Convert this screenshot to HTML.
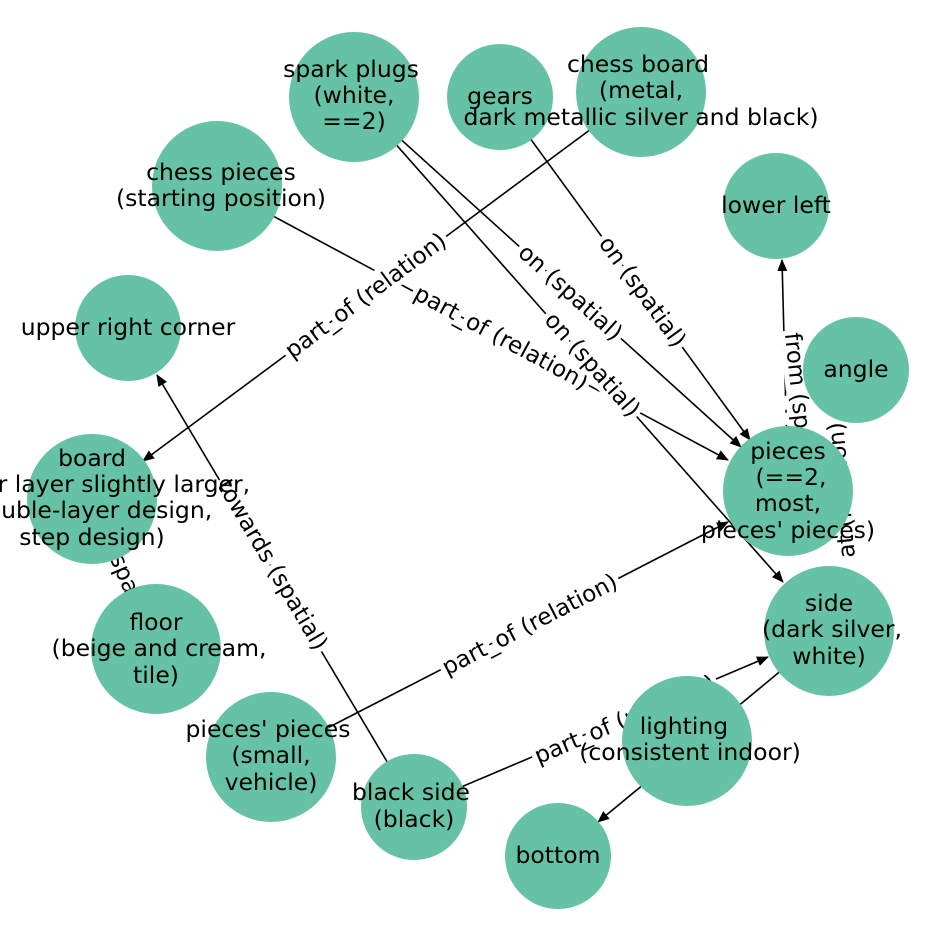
<!DOCTYPE html>
<html><head><meta charset="utf-8"><style>html,body{margin:0;padding:0;background:#fff}svg{display:block}</style></head>
<body>
<svg width="948" height="948" viewBox="0 0 948 948" xmlns="http://www.w3.org/2000/svg" font-family="'DejaVu Sans','Liberation Sans',sans-serif">
<defs>
<marker id="a" markerWidth="12" markerHeight="10" refX="11" refY="5" orient="auto" markerUnits="userSpaceOnUse">
<path d="M0,0 L12,5 L0,10 z" fill="#000"/></marker>
</defs>
<g stroke="#000" stroke-width="1.6" fill="none">
<line x1="641" y1="92" x2="143" y2="461" marker-end="url(#a)"/>
<line x1="217" y1="186" x2="728" y2="460" marker-end="url(#a)"/>
<line x1="354" y1="97" x2="741" y2="447" marker-end="url(#a)"/>
<line x1="354" y1="97" x2="783" y2="582" marker-end="url(#a)"/>
<line x1="500" y1="97" x2="750" y2="440" marker-end="url(#a)"/>
<line x1="788" y1="491" x2="782" y2="260" marker-end="url(#a)"/>
<line x1="788" y1="491" x2="850" y2="424" marker-end="url(#a)"/>
<line x1="414" y1="807" x2="157" y2="375" marker-end="url(#a)"/>
<line x1="271" y1="757" x2="728" y2="522" marker-end="url(#a)"/>
<line x1="414" y1="807" x2="768" y2="657" marker-end="url(#a)"/>
<line x1="829" y1="631" x2="598" y2="822" marker-end="url(#a)"/>
<line x1="92" y1="499" x2="156" y2="649"/>
</g>
<g font-size="23" fill="#000" text-anchor="middle" dominant-baseline="central" stroke="#fff" stroke-width="10" paint-order="stroke">
<text transform="translate(366,296) rotate(-36.5)">part_of (relation)</text>
<text transform="translate(501,338) rotate(28.3)">part_of (relation)</text>
<text transform="translate(570,293) rotate(42)">on (spatial)</text>
<text transform="translate(592,365) rotate(48.5)">on (spatial)</text>
<text transform="translate(642,292) rotate(54)">on (spatial)</text>
<text transform="translate(800,410) rotate(84)">from (spatial)</text>
<text transform="translate(842,490) rotate(-95)">at (relation)</text>
<text transform="translate(272,565) rotate(59.4)">towards (spatial)</text>
<text transform="translate(530,625) rotate(-27.3)">part_of (relation)</text>
<text transform="translate(625,720) rotate(-22.9)">part_of (relation)</text>
<text transform="translate(124,574) rotate(67)">on (spatial)</text>
</g>
<g fill="#66c2a5">
<circle cx="354" cy="97" r="65"/>
<circle cx="500" cy="97" r="53"/>
<circle cx="641" cy="92" r="65"/>
<circle cx="217" cy="186" r="65"/>
<circle cx="776" cy="206" r="53"/>
<circle cx="128" cy="328" r="53"/>
<circle cx="856" cy="370" r="53"/>
<circle cx="92" cy="499" r="65"/>
<circle cx="788" cy="491" r="65"/>
<circle cx="156" cy="649" r="65"/>
<circle cx="829" cy="631" r="65"/>
<circle cx="271" cy="757" r="65"/>
<circle cx="687" cy="741" r="65"/>
<circle cx="414" cy="807" r="53"/>
<circle cx="558" cy="856" r="53"/>
</g>
<g font-size="23.5" fill="#000" text-anchor="middle">
<text x="351" y="77">spark plugs</text><text x="354" y="103">(white,</text><text x="354" y="129">==2)</text>
<text x="500" y="104">gears</text>
<text x="638" y="72">chess board</text><text x="641" y="98">(metal,</text><text x="641" y="125">dark metallic silver and black)</text>
<text x="221" y="180">chess pieces</text><text x="221" y="206">(starting position)</text>
<text x="776" y="213">lower left</text>
<text x="128" y="335">upper right corner</text>
<text x="856" y="377">angle</text>
<text x="92" y="466">board</text><text x="92" y="492">(lower layer slightly larger,</text><text x="92" y="518">double-layer design,</text><text x="92" y="545">step design)</text>
<text x="788" y="459">pieces</text><text x="791" y="485">(==2,</text><text x="788" y="511">most,</text><text x="788" y="538">pieces' pieces)</text>
<text x="156" y="630">floor</text><text x="159" y="656">(beige and cream,</text><text x="156" y="683">tile)</text>
<text x="829" y="611">side</text><text x="832" y="637">(dark silver,</text><text x="829" y="664">white)</text>
<text x="268" y="737">pieces' pieces</text><text x="271" y="763">(small,</text><text x="271" y="790">vehicle)</text>
<text x="684" y="734">lighting</text><text x="690" y="760">(consistent indoor)</text>
<text x="411" y="800">black side</text><text x="414" y="827">(black)</text>
<text x="558" y="863">bottom</text>
</g>
</svg>
</body></html>
